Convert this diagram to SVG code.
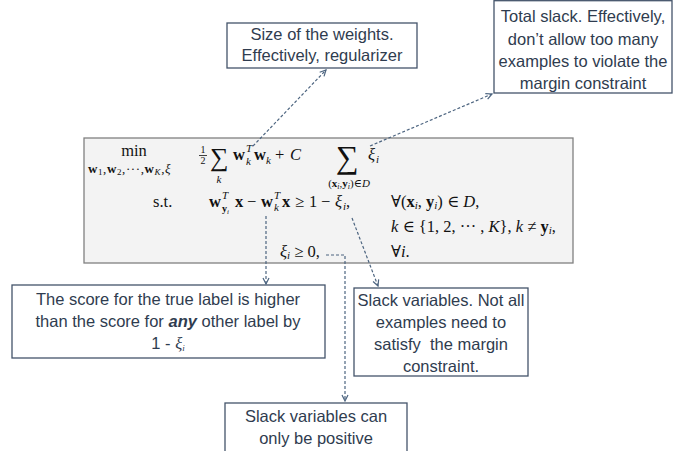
<svg xmlns="http://www.w3.org/2000/svg" width="673" height="451" viewBox="0 0 673 451">
<defs>
<style>
.bx{fill:#fff;stroke:#44546a;stroke-width:1.3}
.t{font-family:"Liberation Sans",Arial,sans-serif;font-size:16.5px;fill:#2f3c4f;text-anchor:middle}
.m{font-family:"Liberation Serif","DejaVu Serif",serif;font-size:16.5px;fill:#111}
.b{font-weight:bold}
.i{font-style:italic}
.s{font-size:11px}
.c{fill:none;stroke:#4d6580;stroke-width:1.2;stroke-dasharray:3 2;marker-end:url(#ah)}
</style>
<marker id="ah" viewBox="0 0 8 8" refX="7" refY="4" markerWidth="8" markerHeight="8" markerUnits="userSpaceOnUse" orient="auto"><path d="M1,1 L7,4 L1,7" fill="none" stroke="#4d6580" stroke-width="1.2"/></marker>
</defs>
<rect width="673" height="451" fill="#fff"/>

<g id="formula">
<rect x="84" y="138" width="489" height="125" fill="#f3f3f3" stroke="#808080" stroke-width="1.3"/>
<text class="m" x="134" y="156" text-anchor="middle">min</text>
<text class="m" x="88" y="173" style="font-size:13px;letter-spacing:0.6px"><tspan class="b">w</tspan><tspan style="font-size:9px" dy="2">1</tspan><tspan dy="-2">,</tspan><tspan class="b">w</tspan><tspan style="font-size:9px" dy="2">2</tspan><tspan dy="-2">,···,</tspan><tspan class="b">w</tspan><tspan class="i" style="font-size:9px" dy="2">K</tspan><tspan dy="-2">,</tspan><tspan class="i">ξ</tspan></text>
<text class="m" x="203" y="153" style="font-size:10px" text-anchor="middle">1</text>
<line x1="199" y1="155.5" x2="207" y2="155.5" stroke="#111" stroke-width="0.8"/>
<text class="m" x="203" y="164" style="font-size:10px" text-anchor="middle">2</text>
<text class="m" x="210" y="166" style="font-size:26px">∑</text>
<text class="m i s" x="219" y="183" text-anchor="middle">k</text>
<text class="m b" x="233" y="160">w</text>
<text class="m i s" x="246" y="152">T</text>
<text class="m i s" x="246" y="165">k</text>
<text class="m b" x="254" y="160">w</text>
<text class="m i s" x="266" y="164">k</text>
<text class="m" x="275" y="160">+</text>
<text class="m i" x="290" y="160">C</text>
<text class="m" x="336" y="168" style="font-size:32px">∑</text>
<text class="m s" x="349" y="187" text-anchor="middle">(<tspan class="b">x</tspan><tspan class="i" style="font-size:8px" dy="1.5">i</tspan><tspan dy="-1.5">,</tspan><tspan class="b">y</tspan><tspan class="i" style="font-size:8px" dy="1.5">i</tspan><tspan dy="-1.5">)∈</tspan><tspan class="i">D</tspan></text>
<text class="m i" x="368" y="160">ξ</text>
<text class="m i s" x="376" y="163">i</text>

<text class="m" x="153" y="207">s.t.</text>
<text class="m b" x="209" y="207">w</text>
<text class="m i s" x="222" y="199">T</text>
<text class="m" x="222" y="212" style="font-size:10px"><tspan class="b">y</tspan><tspan class="i" style="font-size:7px" dy="1.5">i</tspan></text>
<text class="m b" x="235" y="207">x</text>
<text class="m" x="247" y="207">−</text>
<text class="m b" x="261" y="207">w</text>
<text class="m i s" x="274" y="199">T</text>
<text class="m i s" x="274" y="211">k</text>
<text class="m b" x="282" y="207">x</text>
<text class="m" x="295" y="207">≥</text>
<text class="m" x="309" y="207">1</text>
<text class="m" x="321" y="207">−</text>
<text class="m i" x="335" y="207">ξ</text>
<text class="m i s" x="343" y="210">i</text>
<text class="m" x="346" y="207">,</text>

<text class="m" x="391" y="207">∀(<tspan class="b">x</tspan><tspan class="i s" dy="2">i</tspan><tspan dy="-2">, </tspan><tspan class="b">y</tspan><tspan class="i s" dy="2">i</tspan><tspan dy="-2">) ∈ </tspan><tspan class="i">D</tspan>,</text>
<text class="m" x="391" y="232"><tspan class="i">k</tspan> ∈ {1, 2, ··· , <tspan class="i">K</tspan>}, <tspan class="i">k</tspan> ≠ <tspan class="b">y</tspan><tspan class="i s" dy="2">i</tspan><tspan dy="-2">,</tspan></text>
<text class="m" x="280" y="257"><tspan class="i">ξ</tspan><tspan class="i s" dy="2">i</tspan><tspan dy="-2"> ≥ 0,</tspan></text>
<text class="m" x="391" y="257">∀<tspan class="i">i</tspan>.</text>
</g>

<g id="n-weights">
<rect class="bx" x="227" y="23" width="190" height="45"/>
<text class="t" x="322" y="40">Size of the weights.</text>
<text class="t" x="322" y="61">Effectively, regularizer</text>
</g>

<g id="n-totalslack">
<rect class="bx" x="494" y="0.7" width="178" height="92.3"/>
<text class="t" x="583" y="22">Total slack. Effectively,</text>
<text class="t" x="583" y="45">don’t allow too many</text>
<text class="t" x="583" y="67">examples to violate the</text>
<text class="t" x="583" y="89">margin constraint</text>
</g>

<g id="n-score">
<rect class="bx" x="12" y="285" width="313" height="73"/>
<text class="t" x="168" y="305">The score for the true label is higher</text>
<text class="t" x="168" y="327">than the score for <tspan font-weight="bold" font-style="italic">any</tspan> other label by</text>
<text class="t" x="168" y="349">1 - <tspan font-family="Liberation Serif,serif" font-style="italic">ξ</tspan><tspan font-family="Liberation Serif,serif" font-style="italic" style="font-size:9px" dy="2">i</tspan></text>
</g>

<g id="n-slackvars">
<rect class="bx" x="354" y="288" width="174" height="88"/>
<text class="t" x="441" y="306">Slack variables. Not all</text>
<text class="t" x="441" y="328">examples need to</text>
<text class="t" x="441" y="350">satisfy&#160; the margin</text>
<text class="t" x="441" y="372">constraint.</text>
</g>

<g id="n-positive">
<rect class="bx" x="225" y="403" width="182" height="60"/>
<text class="t" x="316" y="422">Slack variables can</text>
<text class="t" x="316" y="444">only be positive</text>
</g>

<g id="connectors">
<path class="c" d="M253,146 L326,70"/>
<path class="c" d="M370,146 L492,94"/>
<path class="c" d="M266,216 L266,284"/>
<path class="c" d="M326,255 L345,255 L345,401"/>
<path class="c" d="M352,218 L378,286"/>
</g>
</svg>
